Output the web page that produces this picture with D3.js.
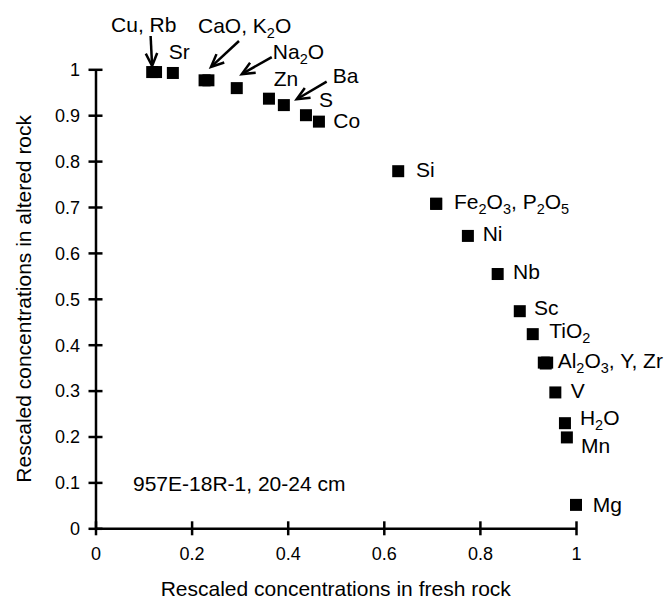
<!DOCTYPE html>
<html><head><meta charset="utf-8">
<script src="https://cdn.jsdelivr.net/npm/d3@7"></script>
<style>body{margin:0;background:#fff} svg{display:block}</style>
</head><body>
<script>
// ---- data ----
const elements      = ["Cu","Rb","Sr","CaO","K2O","Na2O","Zn","Ba","S","Co","Si","Fe2O3","P2O5","Ni","Nb","Sc","TiO2","Al2O3","Y","Zr","V","H2O","Mn","Mg"];
const freshValues   = [0.118,0.126,0.161,0.227,0.235,0.294,0.361,0.392,0.438,0.465,0.630,0.709,0.709,0.775,0.837,0.883,0.910,0.933,0.937,0.940,0.957,0.977,0.981,1.000];
const alteredValues = [0.994,0.994,0.992,0.976,0.976,0.959,0.936,0.922,0.900,0.886,0.778,0.707,0.707,0.637,0.554,0.473,0.423,0.361,0.359,0.361,0.296,0.229,0.198,0.051];

const labelTexts   = ["Cu, Rb","Sr","CaO, K_2O","Na_2O","Zn","Ba","S","Co","Si","Fe_2O_3, P_2O_5","Ni","Nb","Sc","TiO_2","Al_2O_3, Y, Zr","V","H_2O","Mn","Mg"];
const labelMembers = [["Cu","Rb"],["Sr"],["CaO","K2O"],["Na2O"],["Zn"],["Ba"],["S"],["Co"],["Si"],["Fe2O3","P2O5"],["Ni"],["Nb"],["Sc"],["TiO2"],["Al2O3","Y","Zr"],["V"],["H2O"],["Mn"],["Mg"]];

const xTickValues = [0,0.2,0.4,0.6,0.8,1];
const xTickLabels = ["0","0.2","0.4","0.6","0.8","1"];
const yTickValues = [0,0.1,0.2,0.3,0.4,0.5,0.6,0.7,0.8,0.9,1];
const yTickLabels = ["0","0.1","0.2","0.3","0.4","0.5","0.6","0.7","0.8","0.9","1"];

const sampleNote = "957E-18R-1, 20-24 cm";
const xTitle = "Rescaled concentrations in fresh rock";
const yTitle = "Rescaled concentrations in altered rock";

// ---- layout (pixel offsets of labels/arrows from their point group) ----
const labelLayout = {
  "Cu, Rb": {dx:-43, dy:-40, arrow:[-3.5,-36,-2,-6]},
  "Sr": {dx:-4, dy:-14},
  "CaO, K_2O": {dx:-8.5, dy:-47.3, arrow:[32.5,-39.3,4.5,-13.3]},
  "Na_2O": {dx:36, dy:-29, arrow:[35,-31,5,-14]},
  "Zn": {dx:4.7, dy:-12.7},
  "Ba": {dx:49, dy:-22.4, arrow:[42.8,-23.4,12.8,-5.8]},
  "S": {dx:13, dy:-8.2},
  "Co": {dx:14.4, dy:6.1},
  "Si": {dx:17.8, dy:5.8},
  "Fe_2O_3, P_2O_5": {dx:17.8, dy:5.2},
  "Ni": {dx:14.8, dy:5.1},
  "Nb": {dx:15.3, dy:5},
  "Sc": {dx:14.2, dy:3.8},
  "TiO_2": {dx:16.5, dy:4},
  "Al_2O_3, Y, Zr": {dx:12.1, dy:5.1},
  "V": {dx:15.4, dy:5.3},
  "H_2O": {dx:15, dy:1.8},
  "Mn": {dx:14.1, dy:16},
  "Mg": {dx:16.7, dy:6.8}
};

const W = 672, H = 599;
const FONT = "'Liberation Sans', Arial, Helvetica, sans-serif";
const svg = d3.select("body").append("svg").attr("width", W).attr("height", H)
  .style("font-family", FONT);

const x = d3.scaleLinear().domain([0,1]).range([95.5,576]);
const y = d3.scaleLinear().domain([0,1]).range([528.3,69.3]);
const SW = 2.5, TK = 7;

// x axis
const gx = svg.append("g").attr("transform", `translate(0,${y(0)})`)
  .call(d3.axisBottom(x).tickValues(xTickValues).tickSizeOuter(0).tickSizeInner(TK)
    .tickFormat((d,i)=>xTickLabels[i]));
gx.select(".domain").attr("stroke","#000").attr("stroke-width",SW);
gx.selectAll(".tick line").attr("y1",-TK).attr("y2",TK).attr("stroke","#000").attr("stroke-width",SW);
gx.selectAll(".tick text").attr("y",32).attr("dy",null).attr("font-size",18).attr("font-family",FONT).attr("fill","#000");

// y axis
const gy = svg.append("g").attr("transform", `translate(${x(0)},0)`)
  .call(d3.axisLeft(y).tickValues(yTickValues).tickSizeOuter(0).tickSizeInner(TK)
    .tickFormat((d,i)=>yTickLabels[i]));
gy.select(".domain").attr("stroke","#000").attr("stroke-width",SW);
gy.selectAll(".tick line").attr("x1",-TK).attr("x2",TK).attr("stroke","#000").attr("stroke-width",SW);
gy.selectAll(".tick text").attr("x",-15.5).attr("dy","0.35em").attr("font-size",18).attr("font-family",FONT).attr("fill","#000");

// points
const pts = elements.map((e,i)=>({e, fx:freshValues[i], ay:alteredValues[i]}));
const SQ = 12;
svg.append("g").selectAll("rect").data(pts).join("rect")
  .attr("x", d=>x(d.fx)-SQ/2).attr("y", d=>y(d.ay)-SQ/2)
  .attr("width",SQ).attr("height",SQ).attr("fill","#000");

// labels
function addRich(sel, str){
  const parts = str.split(/(_\d)/).filter(s=>s.length);
  let sub = false;
  parts.forEach(p=>{
    if (p[0]==="_"){
      sel.append("tspan").attr("font-size",14.5).attr("dy",5).text(p.slice(1));
      sub = true;
    } else {
      const t = sel.append("tspan").text(p);
      if (sub){ t.attr("dy",-5); sub=false; }
    }
  });
}
const lg = svg.append("g").attr("font-size",21).attr("fill","#000");
labelTexts.forEach((txt,i)=>{
  const mem = labelMembers[i].map(m=>pts.find(p=>p.e===m));
  const ax = d3.mean(mem, p=>x(p.fx)), ay = d3.mean(mem, p=>y(p.ay));
  const L = labelLayout[txt];
  const t = lg.append("text").attr("x", ax+L.dx).attr("y", ay+L.dy);
  addRich(t, txt);
  if (L.arrow){
    const [sx,sy,ex,ey] = L.arrow;
    const x1=ax+sx, y1=ay+sy, x2=ax+ex, y2=ay+ey;
    const ang = Math.atan2(y2-y1, x2-x1), hl = 14, ha = 0.42;
    const p1 = [x2 - hl*Math.cos(ang-ha), y2 - hl*Math.sin(ang-ha)];
    const p2 = [x2 - hl*Math.cos(ang+ha), y2 - hl*Math.sin(ang+ha)];
    lg.append("line").attr("x1",x1).attr("y1",y1).attr("x2",x2-2*Math.cos(ang)).attr("y2",y2-2*Math.sin(ang))
      .attr("stroke","#000").attr("stroke-width",2.5);
    lg.append("path").attr("d",`M${p1[0]},${p1[1]}L${x2},${y2}L${p2[0]},${p2[1]}`)
      .attr("fill","none").attr("stroke","#000").attr("stroke-width",2.5).attr("stroke-linejoin","miter");
  }
});

// sample note
svg.append("text").attr("x",133).attr("y",491).attr("font-size",21).text(sampleNote);

// axis titles
svg.append("text").attr("x",(x(0)+x(1))/2).attr("y",596).attr("text-anchor","middle")
  .attr("font-size",21).text(xTitle);
svg.append("text").attr("transform",`translate(31,${(y(0)+y(1))/2}) rotate(-90)`)
  .attr("text-anchor","middle").attr("font-size",21).text(yTitle);
</script>
</body></html>
